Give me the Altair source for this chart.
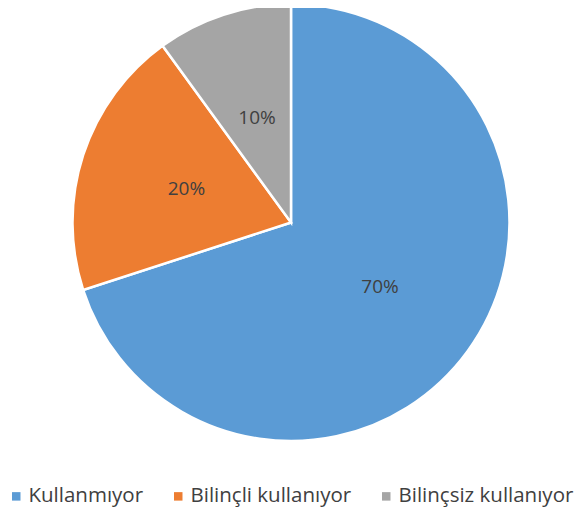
import altair as alt
import pandas as pd

categories = ["Kullanmıyor", "Bilinçli kullanıyor", "Bilinçsiz kullanıyor"]
values = [70, 20, 10]
labels = ["70%", "20%", "10%"]
colors = ["#5B9BD5", "#ED7D31", "#A5A5A5"]

df = pd.DataFrame({
    "cat": categories,
    "val": values,
    "ord": list(range(len(categories))),
    "label": labels,
})

CX, CY = 283, 214.5

base = alt.Chart(df).encode(
    theta=alt.Theta("val:Q", stack=True),
    order=alt.Order("ord:Q", sort="ascending"),
)

pie = base.mark_arc(radius=218.5, stroke="white", strokeWidth=2.5).encode(
    x=alt.value(CX),
    y=alt.value(CY),
    color=alt.Color(
        "cat:N",
        scale=alt.Scale(domain=categories, range=colors),
        sort=categories,
        legend=alt.Legend(
            title=None,
            orient="none",
            legendX=-2,
            legendY=478,
            direction="horizontal",
            symbolType="square",
            symbolSize=72,
            symbolStrokeWidth=0,
            labelFont="Open Sans",
            labelFontSize=20.5,
            labelColor="#404040",
            labelOffset=2,
            labelLimit=0,
            columnPadding=24,
            padding=0,
        ),
    ),
)

text = base.mark_text(radius=110, font="Open Sans", fontSize=19, color="#404040").encode(
    x=alt.value(CX),
    y=alt.value(CY),
    text="label:N",
)

chart = (pie + text).properties(
    width=568, height=500, padding=0, autosize=alt.AutoSizeParams(type="none")
).configure_view(stroke=None)

chart.save("out.html", embed_options={"renderer": "svg", "actions": False})
